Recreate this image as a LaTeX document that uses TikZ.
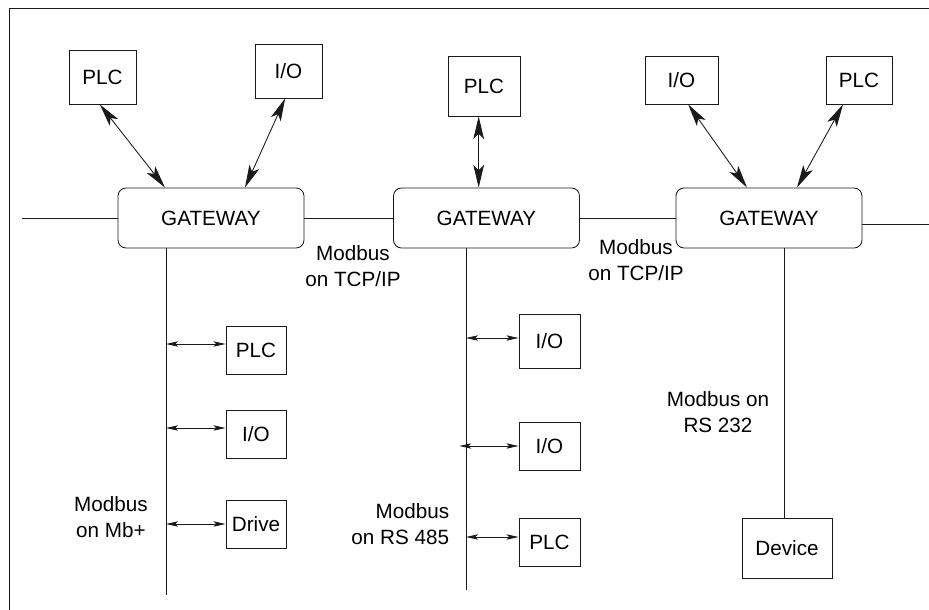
\documentclass[tikz,border=0pt]{standalone}
\usepackage{fontspec}
\setmainfont{Liberation Sans}
\usetikzlibrary{calc,arrows.meta}
\definecolor{rline}{HTML}{1A1A1A}

\begin{document}
\begin{tikzpicture}[x=0.75pt, y=-0.75pt, line width=0.65pt, draw=rline,
    font=\fontsize{15.5}{19}\selectfont,
    dev/.style={draw, inner sep=0pt, minimum width=#1},
    gway/.style={draw, rounded corners=6pt, inner sep=0pt,
      minimum width=139.5pt, minimum height=45pt},
    uplink/.style={{Stealth[length=17pt,width=8pt,inset=4pt]}-{Stealth[length=17pt,width=8pt,inset=4pt]}},
    droplink/.style={{Stealth[length=9pt,width=4pt,inset=2pt]}-{Stealth[length=9pt,width=4pt,inset=2pt]}}]
  \useasboundingbox (0,0) rectangle (929,610);

  % page frame, open at right and bottom
  \draw (9,610) -- (9,8) -- (929,8);

  % gateways on the TCP/IP backbone
  \node[gway] (g1) at (211,218) {GATEWAY};
  \node[gway] (g2) at (486.5,218) {GATEWAY};
  \node[gway] (g3) at (769,218) {GATEWAY};
  \coordinate (busL) at (22,218);
  \coordinate (busR) at (929,224);
  \draw (busL) -- (g1.west);
  \draw (g1.east) -- (g2.west);
  \draw (g2.east) -- (g3.west);
  \draw ([yshift=-4.5pt]g3.east) -- (busR);

  % devices above the gateways
  \node[dev=50.25pt, minimum height=40.5pt] (pA) at (102.5,77) {PLC};
  \node[dev=50.25pt, minimum height=40.5pt] (ioA) at (288.5,71) {I/O};
  \node[dev=54pt, minimum height=45pt] (pB) at (484,86) {PLC};
  \node[dev=54.75pt, minimum height=36pt] (ioC) at (681.5,80) {I/O};
  \node[dev=49.5pt, minimum height=36pt] (pC) at (859,80) {PLC};

  \draw[uplink] ([xshift=-2pt]pA.south) -- ([xshift=-34.5pt]g1.north);
  \draw[uplink] ([xshift=-2.5pt]ioA.south) -- ([xshift=25.5pt]g1.north);
  \draw[uplink] ([xshift=-4pt]pB.south) -- ([xshift=-4pt]pB.south |- g2.north);
  \draw[uplink] ([xshift=5pt]ioC.south) -- ([xshift=-16.5pt]g3.north);
  \draw[uplink] ([xshift=-12pt]pC.south) -- ([xshift=21pt]g3.north);

  % backbone labels
  \node[align=center] (tcpA) at (353,266) {Modbus\\on TCP/IP};
  \node[align=center] (tcpB) at (636,260) {Modbus\\on TCP/IP};

  % Modbus Plus drop
  \coordinate (mbEnd) at (166,595);
  \draw (g1.south -| mbEnd) -- (mbEnd);
  \node[dev=45pt, minimum height=36pt] (pD) at (256,350) {PLC};
  \node[dev=45pt, minimum height=36pt] (ioD) at (256,434) {I/O};
  \node[dev=45pt, minimum height=36pt] (drv) at (256,524) {Drive};
  \draw[droplink] ([yshift=4.5pt]pD.west -| mbEnd) -- ([yshift=4.5pt]pD.west);
  \draw[droplink] ([yshift=4.5pt]ioD.west -| mbEnd) -- ([yshift=4.5pt]ioD.west);
  \draw[droplink] (drv.west -| mbEnd) -- (drv.west);
  \node[align=center] (mbLbl) at (111,517) {Modbus\\on Mb+};

  % RS 485 drop
  \coordinate (rsEnd) at (466,590);
  \draw (g2.south -| rsEnd) -- (rsEnd);
  \node[dev=45.75pt, minimum height=40.5pt] (ioE) at (549.5,341) {I/O};
  \node[dev=45.75pt, minimum height=36pt] (ioF) at (549.5,446) {I/O};
  \node[dev=45.75pt, minimum height=36pt] (pE) at (549.5,542) {PLC};
  \draw[droplink] ([yshift=2.25pt]ioE.west -| rsEnd) -- ([yshift=2.25pt]ioE.west);
  \draw[droplink] ([xshift=-5pt]ioF.west -| rsEnd) -- (ioF.west);
  \draw[droplink] ([yshift=3.75pt]pE.west -| rsEnd) -- ([yshift=3.75pt]pE.west);
  \node[align=right, anchor=east] (rsLbl) at (454,524) {Modbus\\on RS 485};

  % RS 232 point-to-point link
  \node[dev=67.5pt, minimum height=45pt] (dv) at (787,548) {Device};
  \draw (g3.south -| 784,0) -- (dv.north -| 784,0);
  \node[align=center] (rs2Lbl) at (718,412) {Modbus on\\RS 232};
\end{tikzpicture}
\end{document}
